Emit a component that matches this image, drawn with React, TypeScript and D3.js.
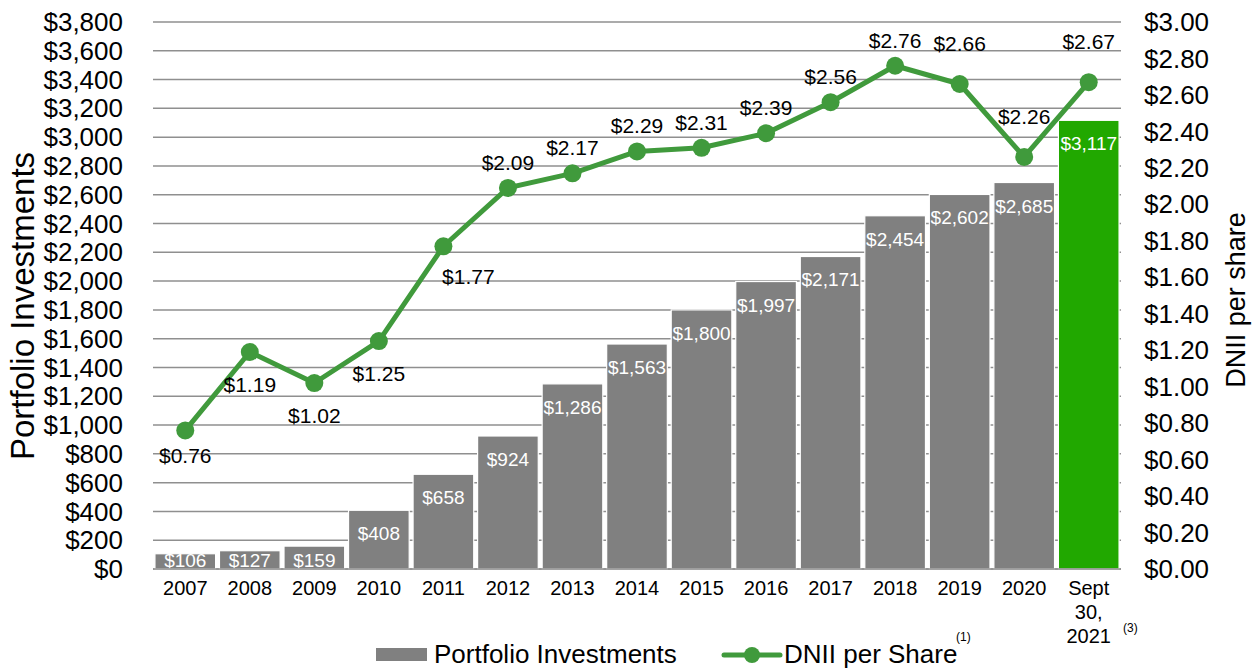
import * as d3 from 'd3';

const categories = ['2007', '2008', '2009', '2010', '2011', '2012', '2013', '2014', '2015', '2016', '2017', '2018', '2019', '2020', 'Sept\n30,\n2021'];
const portfolio = [106, 127, 159, 408, 658, 924, 1286, 1563, 1800, 1997, 2171, 2454, 2602, 2685, 3117];
const dnii = [0.76, 1.19, 1.02, 1.25, 1.77, 2.09, 2.17, 2.29, 2.31, 2.39, 2.56, 2.76, 2.66, 2.26, 2.67];
// where each DNII label sits relative to its point
const dniiLabelPlace = ['below', 'below', 'below', 'below', 'below-right', 'above', 'above', 'above', 'above', 'above', 'above', 'above', 'high', 'high', 'high'];
const leftTicks = d3.range(0, 3801, 200);
const rightTicks = d3.range(0, 16).map(i => i * 0.2);

const W = 1252;
const H = 669;
const plot = { left: 153, right: 1121, top: 22, bottom: 569 };
const font = '"Liberation Sans", Arial, sans-serif';
const gray = '#808080';
const green = '#409a3c';
const barGreen = '#21a800';

const fmtMoney = d3.format('$,.0f');
const fmtShare = d3.format('$.2f');

export default function App() {
  const x = d3.scaleBand().domain(categories).range([plot.left, plot.right]).paddingInner(0.06).paddingOuter(0.03);
  const yL = d3.scaleLinear().domain([0, 3800]).range([plot.bottom, plot.top]);
  const yR = d3.scaleLinear().domain([0, 3]).range([plot.bottom, plot.top]);
  const cx = (c: string) => (x(c) as number) + x.bandwidth() / 2;

  const line = d3.line<number>()
    .x((_, i) => cx(categories[i]))
    .y(d => yR(d));

  return (
    <svg width={W} height={H} style={{ position: 'absolute', left: 0, top: 0, fontFamily: font }}>
      {/* gridlines */}
      {leftTicks.map(t => (
        <line key={t} x1={plot.left} x2={plot.right} y1={yL(t)} y2={yL(t)} stroke="#8f8f8f" strokeWidth={1.5} />
      ))}

      {/* bars */}
      {portfolio.map((v, i) => {
        const c = categories[i];
        const last = i === portfolio.length - 1;
        const top = yL(v);
        return (
          <g key={c}>
            <rect x={x(c)} y={top} width={x.bandwidth()} height={yL(0) - top}
              fill={last ? barGreen : gray} stroke="#fff" strokeWidth={1.2} />
            <text x={cx(c)} y={Math.min(top + 30, yL(0) - 2)} textAnchor="middle" fill="#fff" fontSize={19}>
              {fmtMoney(v)}
            </text>
          </g>
        );
      })}
      {/* hide label overflow below baseline */}
      <rect x={plot.left} y={yL(0) + 1} width={plot.right - plot.left} height={8} fill="#fff" />
      <line x1={plot.left} x2={plot.right} y1={yL(0)} y2={yL(0)} stroke="#8f8f8f" strokeWidth={1.5} />

      {/* DNII line */}
      <path d={line(dnii) || ''} fill="none" stroke={green} strokeWidth={5} strokeLinejoin="round" />
      {dnii.map((v, i) => (
        <circle key={i} cx={cx(categories[i])} cy={yR(v)} r={9} fill={green} />
      ))}
      {dnii.map((v, i) => {
        const place = dniiLabelPlace[i];
        const px = cx(categories[i]);
        const py = yR(v);
        let dy = -18;
        let dx = 0;
        if (place === 'below') dy = 40;
        if (place === 'below-right') { dy = 38; dx = 25; }
        if (place === 'high') dy = -33;
        if (i === 0) dy = 33;
        return (
          <text key={i} x={px + dx} y={py + dy} textAnchor="middle" fontSize={21} fill="#000">
            {fmtShare(v)}
          </text>
        );
      })}

      {/* left axis */}
      {leftTicks.map(t => (
        <text key={t} x={123} y={yL(t)} dy="0.35em" textAnchor="end" fontSize={26} fill="#000">
          {fmtMoney(t)}
        </text>
      ))}
      {/* right axis */}
      {rightTicks.map(t => (
        <text key={t} x={1144} y={yR(t)} dy="0.35em" textAnchor="start" fontSize={26} fill="#000">
          {fmtShare(t)}
        </text>
      ))}

      {/* x labels */}
      {categories.map(c => (
        <text key={c} x={cx(c)} y={595} textAnchor="middle" fontSize={20} fill="#000">
          {c.split('\n').map((ln, j) => (
            <tspan key={j} x={cx(c)} dy={j === 0 ? 0 : 24}>{ln}</tspan>
          ))}
        </text>
      ))}
      <text x={1123} y={632} fontSize={12} fill="#000">(3)</text>

      {/* axis titles */}
      <text transform={`translate(34,306) rotate(-90)`} textAnchor="middle" fontSize={33} fill="#000">
        Portfolio Investments
      </text>
      <text transform={`translate(1245,300) rotate(-90)`} textAnchor="middle" fontSize={27} fill="#000">
        DNII per share
      </text>

      {/* legend */}
      <rect x={376} y={648} width={51} height={13} fill={gray} />
      <text x={434} y={663} fontSize={26} fill="#000">Portfolio Investments</text>
      <line x1={724} x2={780} y1={655} y2={655} stroke={green} strokeWidth={5} strokeLinecap="round" />
      <circle cx={752} cy={655} r={8} fill={green} />
      <text x={784} y={663} fontSize={26} fill="#000">DNII per Share</text>
      <text x={956} y={641} fontSize={12} fill="#000">(1)</text>
    </svg>
  );
}
